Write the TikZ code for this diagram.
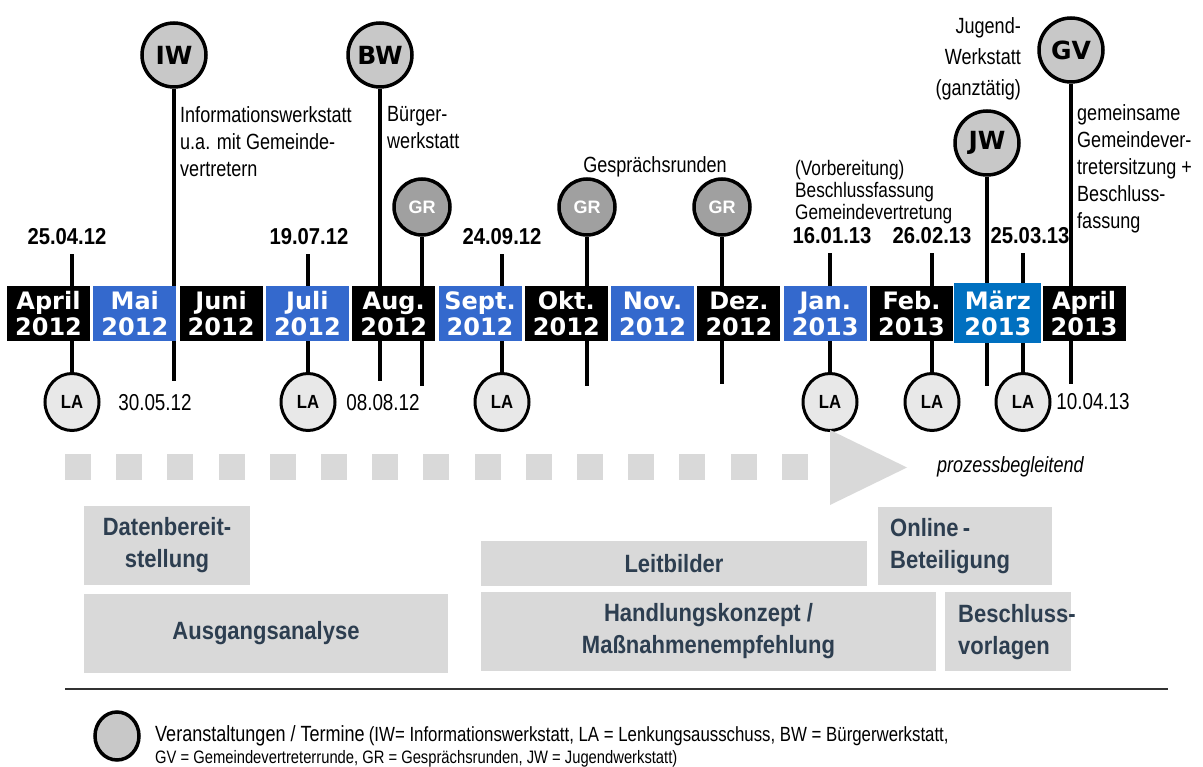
\documentclass[tikz,border=0pt]{standalone}
\usepackage{fontspec}
\setmainfont{Liberation Sans}
\newfontfamily\nar[FakeStretch=0.82]{Liberation Sans}
\newfontfamily\narb[FakeStretch=0.88]{Liberation Sans}
\newfontfamily\verd{DejaVu Sans}
\usetikzlibrary{shapes.geometric}
\definecolor{mblue}{RGB}{52,105,205}
\definecolor{mzblue}{RGB}{0,112,192}
\definecolor{bigfill}{RGB}{200,200,200}
\definecolor{grfill}{RGB}{160,160,160}
\definecolor{lafill}{RGB}{232,232,232}
\definecolor{gboxc}{RGB}{217,217,217}
\definecolor{btext}{RGB}{45,62,80}
\definecolor{rulec}{RGB}{50,50,50}
\begin{document}
\begin{tikzpicture}[x=1pt,y=-1pt,
  ev/.style={line width=4.5pt},
  evd/.style={line width=4.5pt, shorten >=9pt},
  big/.style={circle, draw, line width=3.5pt, fill=bigfill, minimum size=64, inner sep=0,
    font=\verd\bfseries\fontsize{25}{25}\selectfont},
  grc/.style={circle, draw, line width=3.5pt, fill=grfill, minimum size=56, inner sep=0,
    text=white, font=\bfseries\fontsize{18}{18}\selectfont},
  lac/.style={ellipse, draw, line width=3pt, fill=lafill, minimum width=54, minimum height=57, inner sep=0,
    font=\narb\bfseries\fontsize{19}{19}\selectfont},
  mbox/.style={minimum width=83, minimum height=55, inner sep=0, text=white, align=center,
    font=\verd\bfseries\fontsize{24}{26}\selectfont},
  dtop/.style={inner sep=0, font=\narb\bfseries\fontsize{23}{23}\selectfont},
  dlow/.style={inner sep=0, font=\nar\fontsize{23}{23}\selectfont},
  note/.style={inner sep=0, font=\nar\fontsize{22}{27}\selectfont},
  gbox/.style={fill=gboxc, inner sep=0, text=btext, align=center,
    font=\narb\bfseries\fontsize{25}{32}\selectfont}
]
\useasboundingbox (0,0) rectangle (1203,767);

% top event circles
\node[big] (iw) at (174,55) {IW};
\node[big] (bw) at (380,55) {BW};
\node[big] (jw) at (987,143) {JW};
\node[big] (gv) at (1071,50) {GV};
\node[grc] (gr1) at (422,207) {GR};
\node[grc] (gr2) at (587,207) {GR};
\node[grc] (gr3) at (722,207) {GR};

% LA circles
\node[lac] (la1) at (72,402) {LA};
\node[lac] (la2) at (308,402) {LA};
\node[lac] (la3) at (502,402) {LA};
\node[lac] (la4) at (830,402) {LA};
\node[lac] (la5) at (932,402) {LA};
\node[lac] (la6) at (1023,402) {LA};

% top dates
\node[dtop] (d1) at (67,237) {25.04.12};
\node[dtop] (d2) at (309,237) {19.07.12};
\node[dtop] (d3) at (502,237) {24.09.12};
\node[dtop] (d4) at (832,236) {16.01.13};
\node[dtop] (d5) at (932,236) {26.02.13};
\node[dtop] (d6) at (1030,236) {25.03.13};

% lower dates
\node[dlow] (l1) at (155,403) {30.05.12};
\node[dlow] (l2) at (383,403) {08.08.12};
\node[dlow] (l3) at (1093,402) {10.04.13};

% annotations
\node[note, anchor=north west, align=left] (tiw) at (180,106) {Informationswerkstatt\\u.a. mit Gemeinde-\\vertretern};
\node[note, anchor=north west, align=left] (tbw) at (387,106) {Bürger-\\werkstatt};
\node[note, anchor=base] (tgr) at (655,173) {Gesprächsrunden};
\node[note, anchor=north west, align=left, font=\nar\fontsize{21}{22}\selectfont] (tvb) at (795,160) {(Vorbereitung)\\Beschlussfassung\\Gemeindevertretung};
\node[note, anchor=north east, align=right, font=\nar\fontsize{22}{31}\selectfont] (tjw) at (1021,17) {Jugend-\\Werkstatt\\(ganztätig)};
\node[note, anchor=north west, align=left] (tgv) at (1077,104) {gemeinsame\\Gemeindever-\\tretersitzung +\\Beschluss-\\fassung};

% line ends
\coordinate (e2) at (174,381);
\coordinate (e4) at (380,381);
\coordinate (e5) at (422,386);
\coordinate (e7) at (587,386);
\coordinate (e8) at (722,384);
\coordinate (e11) at (987,386);
\coordinate (e13) at (1071,384);

% connectors
\draw[evd] (la1) -- (la1 |- d1.south);
\draw[evd] (la2) -- (la2 |- d2.south);
\draw[evd] (la3) -- (la3 |- d3.south);
\draw[evd] (la4) -- (la4 |- d4.south);
\draw[evd] (la5) -- (la5 |- d5.south);
\draw[evd] (la6) -- (la6 |- d6.south);
\draw[ev] (iw) -- (e2);
\draw[ev] (bw) -- (e4);
\draw[ev] (gr1) -- (e5);
\draw[ev] (gr2) -- (e7);
\draw[ev] (gr3) -- (e8);
\draw[ev] (jw) -- (e11);
\draw[ev] (gv) -- (e13);

% month boxes
\node[mbox, fill=black] (m1) at (48.5,313.5) {April\\2012};
\node[mbox, fill=mblue] (m2) at (134.8,313.5) {Mai\\2012};
\node[mbox, fill=black] (m3) at (221.1,313.5) {Juni\\2012};
\node[mbox, fill=mblue] (m4) at (307.4,313.5) {Juli\\2012};
\node[mbox, fill=black] (m5) at (393.7,313.5) {Aug.\\2012};
\node[mbox, fill=mblue] (m6) at (480,313.5) {Sept.\\2012};
\node[mbox, fill=black] (m7) at (566.3,313.5) {Okt.\\2012};
\node[mbox, fill=mblue] (m8) at (652.6,313.5) {Nov.\\2012};
\node[mbox, fill=black] (m9) at (738.9,313.5) {Dez.\\2012};
\node[mbox, fill=mblue] (m10) at (825.2,313.5) {Jan.\\2013};
\node[mbox, fill=black] (m11) at (911.5,313.5) {Feb.\\2013};
\node[mbox, fill=mzblue, minimum width=87, minimum height=60] (m12) at (997.8,313.5) {März\\2013};
\node[mbox, fill=black] (m13) at (1084.1,313.5) {April\\2013};

% process arrow
\foreach \i in {0,...,14} \fill[gboxc] (65+51.2*\i,454) rectangle ++(26,26);
\fill[gboxc] (830,430) -- (907,467.5) -- (830,505) -- cycle;
\node[anchor=west, inner sep=0, font=\nar\itshape\fontsize{22}{22}\selectfont] (pb) at (937,467) {prozessbegleitend};

% work packages
\node[gbox, minimum width=166, minimum height=79] (db) at (167,545.5) {Datenbereit-\\stellung};
\node[gbox, minimum width=364, minimum height=79] (aa) at (266,633.5) {Ausgangsanalyse};
\node[gbox, minimum width=386, minimum height=45] (lb) at (674,563.5) {Leitbilder};
\node[gbox, minimum width=455, minimum height=79] (hk) at (708.5,631.5) {Handlungskonzept /\\Maßnahmenempfehlung};
\node[gbox, anchor=north west, minimum width=174, minimum height=78, text width=150, align=left, inner xsep=12] (ob) at (878,507) {\mbox{Online\,-}\\Beteiligung};
\node[gbox, anchor=north west, minimum width=126, minimum height=79, text width=100, align=left, inner xsep=13] (bv) at (945,592) {\mbox{Beschluss-}\\vorlagen};

% rule
\draw[line width=2.5pt, rulec] (65,689) -- (1168,689);

% legend
\node[ellipse, draw, line width=3.5pt, fill=bigfill, minimum width=44, minimum height=48, inner sep=0] (leg) at (117,736) {};
\node[anchor=north west, align=left, inner sep=0, font=\nar\fontsize{18}{22.5}\selectfont] (legt) at (155,725) {{\fontsize{22}{22.5}\selectfont Veranstaltungen / Termine} {\fontsize{20.5}{22.5}\selectfont (IW= Informationswerkstatt, LA = Lenkungsausschuss, BW = Bürgerwerkstatt,}\\GV = Gemeindevertreterrunde, GR = Gesprächsrunden, JW = Jugendwerkstatt)};
\end{tikzpicture}
\end{document}
